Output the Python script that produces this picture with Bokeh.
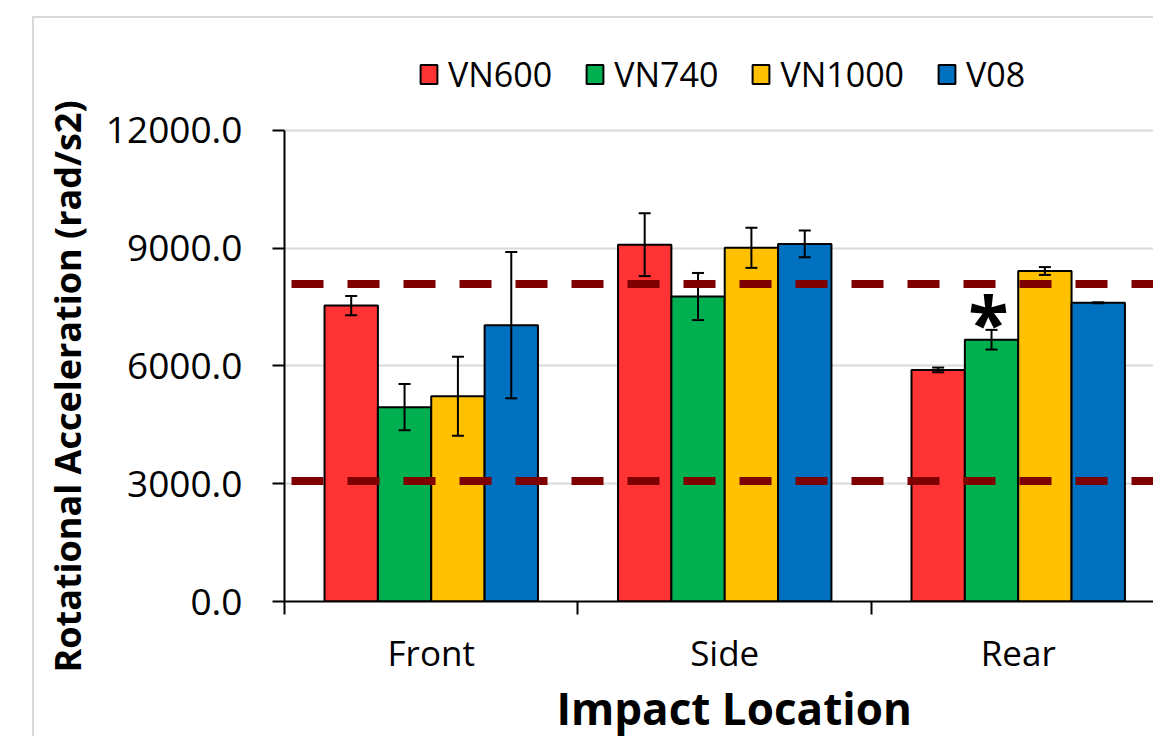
from bokeh.plotting import figure
from bokeh.models import (Range1d, FixedTicker, NumeralTickFormatter, ColumnDataSource,
                          Whisker, TeeHead, Span, Legend, LegendItem, Title)
from bokeh.core.properties import value
from bokeh.embed import file_html
from bokeh.resources import INLINE

# ---------------- data ----------------
categories = ["Front", "Side", "Rear"]
series = ["VN600", "VN740", "VN1000", "V08"]
colors = ["#FF3333", "#00B050", "#FFC000", "#0070C0"]

vn600 = [7540, 9090, 5900]
vn740 = [4950, 7770, 6670]
vn1000 = [5230, 9010, 8420]
v08 = [7040, 9110, 7610]

vn600_err = [245, 800, 60]
vn740_err = [590, 600, 250]
vn1000_err = [1005, 510, 100]
v08_err = [1865, 340, 12]

thresholds = [8090, 3070]
y_ticks = [0, 3000, 6000, 9000, 12000]
vn740_marks = ["", "", "*"]

x_title = "Impact Location"
y_title = "Rotational Acceleration (rad/s2)"

values = [vn600, vn740, vn1000, v08]
errors = [vn600_err, vn740_err, vn1000_err, v08_err]

FONT = "Open Sans"

p = figure(width=1153, height=736, output_backend="svg", toolbar_location=None,
           x_range=Range1d(0, 2.961), y_range=Range1d(0, 14700),
           min_border_left=284, min_border_right=0, min_border_top=24, min_border_bottom=135)
p.styles = {
    "background-image": "linear-gradient(#d9d9d9, #d9d9d9), linear-gradient(#d9d9d9, #d9d9d9)",
    "background-size": "2px 100%, 100% 2px",
    "background-position": "32px 16px, 32px 16px",
    "background-repeat": "no-repeat",
}
p.border_fill_color = None
p.outline_line_color = None
p.background_fill_color = "white"

n = len(series)
bw = 0.1818
offsets = [(k - (n - 1) / 2) * bw for k in range(n)]

renderers = []
for k in range(n):
    xs = [i + 0.5 + offsets[k] for i in range(len(categories))]
    src = ColumnDataSource(dict(
        x=xs, top=values[k],
        upper=[v + e for v, e in zip(values[k], errors[k])],
        lower=[v - e for v, e in zip(values[k], errors[k])],
    ))
    r = p.vbar(x="x", top="top", bottom=0, width=bw, source=src,
               fill_color=colors[k], line_color="black", line_width=2)
    renderers.append(r)
    w = Whisker(source=src, base="x", upper="upper", lower="lower", level="annotation",
                line_color="black", line_width=2,
                upper_head=TeeHead(size=12, line_color="black", line_width=2),
                lower_head=TeeHead(size=12, line_color="black", line_width=2))
    p.add_layout(w)

# significance mark on VN740
mk_x = [i + 0.5 + offsets[1] for i, m in enumerate(vn740_marks) if m]
mk_y = [vn740[i] + vn740_err[i] for i, m in enumerate(vn740_marks) if m]
mk_t = [m for m in vn740_marks if m]
p.text(x=mk_x, y=mk_y, text=mk_t, text_font=value(FONT), text_font_style="bold",
       text_font_size="74px", text_align="center", text_baseline="alphabetic",
       x_offset=-3, y_offset=-8, text_color="black")

for t in thresholds:
    p.add_layout(Span(location=t, dimension="width", line_color="#7F0000",
                      line_width=8, line_dash="32 24", line_dash_offset=49))

# axes
yax = p.yaxis[0]
yax.ticker = FixedTicker(ticks=y_ticks)
yax.bounds = (y_ticks[0], y_ticks[-1])
yax.formatter = NumeralTickFormatter(format="0.0")
yax.major_tick_out = 12
yax.major_tick_in = 0
yax.minor_tick_out = 0
yax.minor_tick_in = 0
yax.axis_line_width = 2
yax.major_tick_line_width = 2
yax.axis_line_color = "black"
yax.major_tick_line_color = "black"
yax.major_label_text_font = FONT
yax.major_label_text_font_size = "37px"
yax.major_label_text_color = "black"
yax.major_label_standoff = 30

xax = p.xaxis[0]
xax.ticker = FixedTicker(ticks=[i + 0.5 for i in range(len(categories))],
                         minor_ticks=list(range(len(categories) + 1)))
xax.major_label_overrides = {i + 0.5: c for i, c in enumerate(categories)}
xax.major_tick_out = 0
xax.major_tick_in = 0
xax.minor_tick_out = 13
xax.minor_tick_in = 0
xax.minor_tick_line_width = 2
xax.minor_tick_line_color = "black"
xax.axis_line_width = 2
xax.axis_line_color = "black"
xax.major_label_text_font = FONT
xax.major_label_text_font_size = "35px"
xax.major_label_text_color = "black"
xax.major_label_standoff = 14

p.add_layout(Title(text=y_title, align="left", offset=-71, standoff=22,
                   text_font=FONT, text_font_style="bold", text_font_size="36px",
                   text_color="black"), "left")
p.add_layout(Title(text=x_title, align="left", offset=272, standoff=-6,
                   text_font=FONT, text_font_style="bold", text_font_size="44px",
                   text_color="black"), "below")

p.xgrid.visible = False
p.ygrid.ticker = FixedTicker(ticks=y_ticks)
p.ygrid.grid_line_color = "#d9d9d9"
p.ygrid.grid_line_width = 2

legend = Legend(items=[LegendItem(label=s, renderers=[r]) for s, r in zip(series, renderers)],
                orientation="horizontal", location=(134, 504),
                glyph_width=21, glyph_height=24, label_standoff=9, spacing=32,
                padding=0, margin=0, border_line_alpha=0, background_fill_alpha=0,
                label_text_font=FONT, label_text_font_size="34px", label_text_color="black")
p.add_layout(legend)

open("out.html", "w").write(file_html(p, INLINE))
